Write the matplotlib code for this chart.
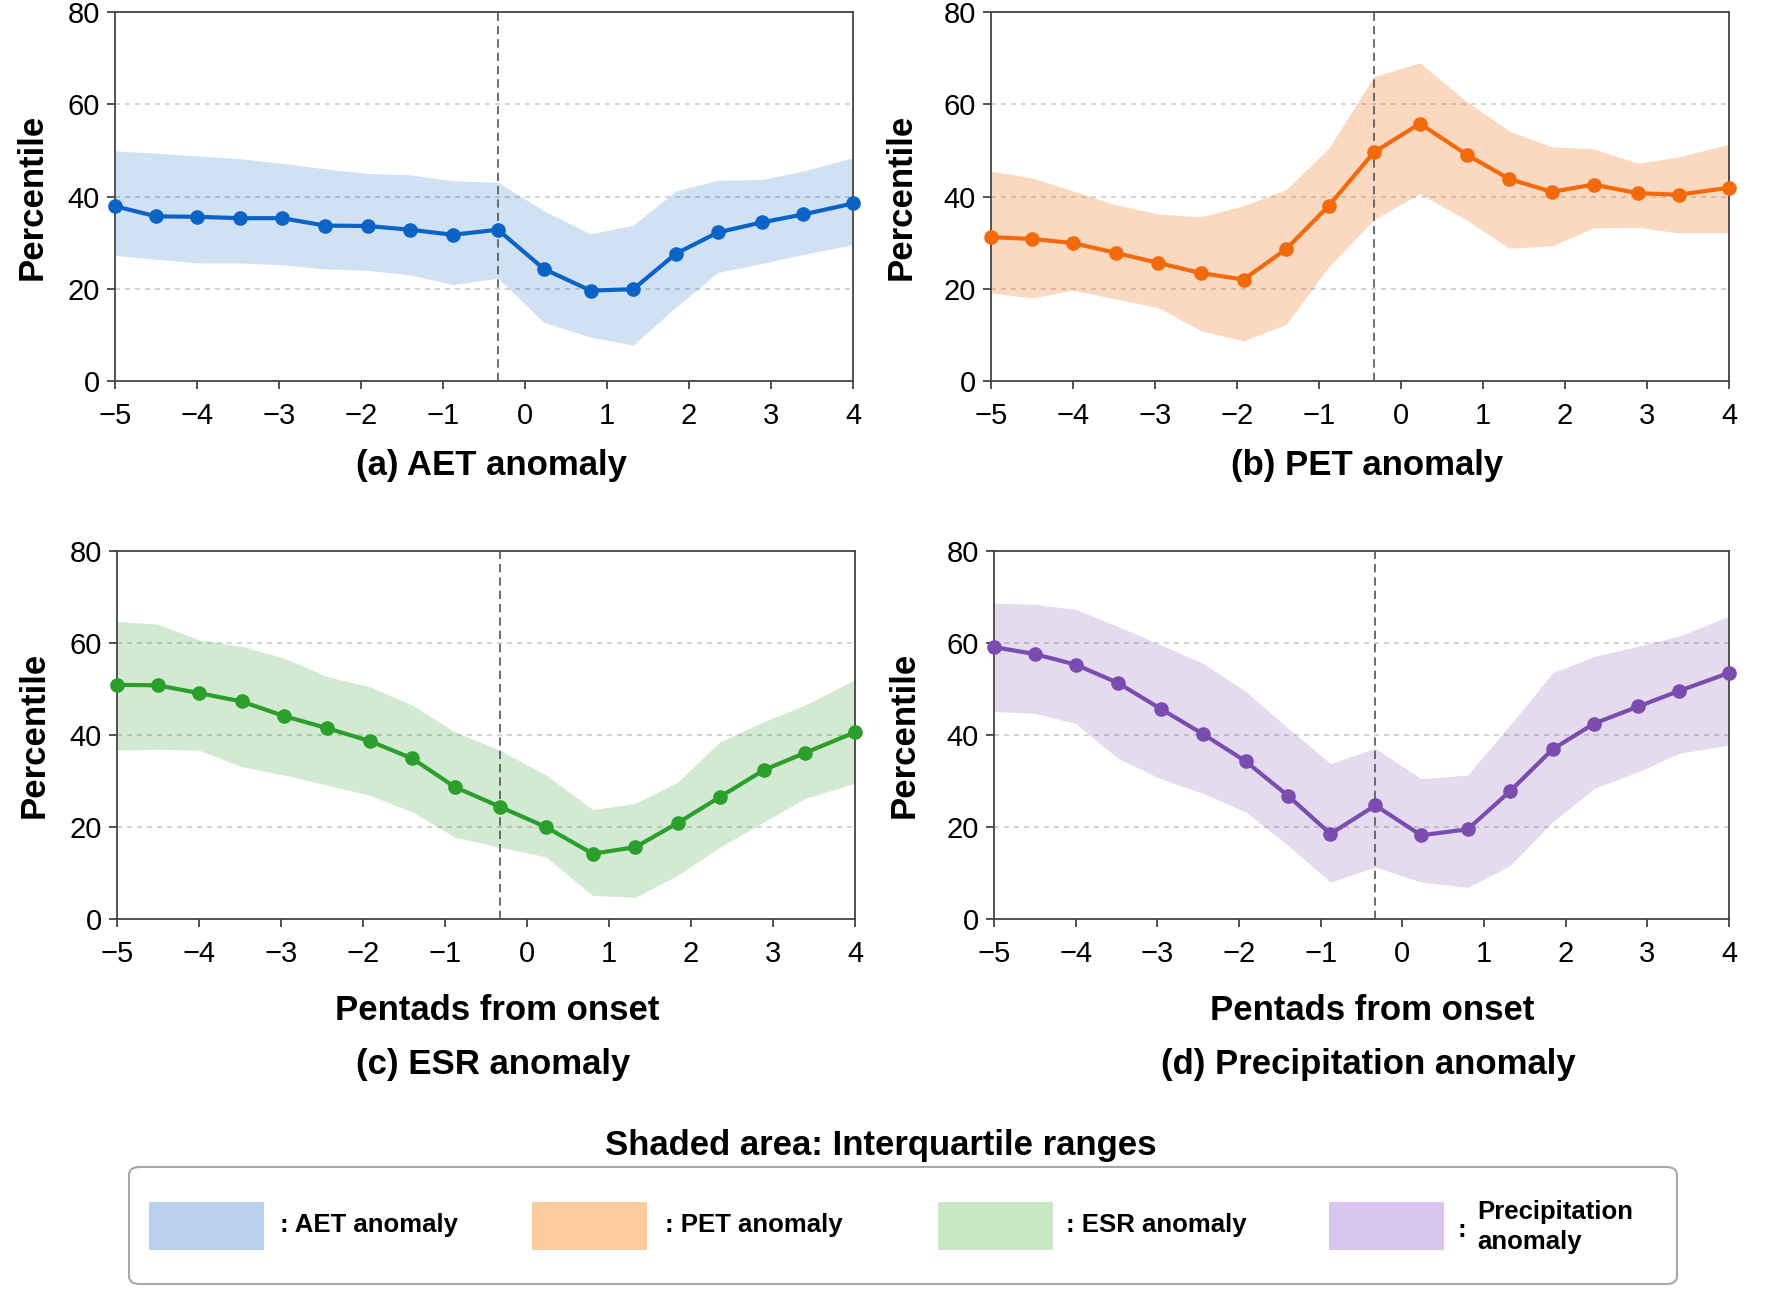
import numpy as np
import matplotlib.pyplot as plt
from matplotlib.patches import FancyBboxPatch, Rectangle

plt.rcParams['font.family'] = ['Liberation Sans', 'DejaVu Sans']
plt.rcParams['axes.unicode_minus'] = True

# pentads relative to onset (18 samples, onset marked by the dashed line)
pentads = [-5.0, -4.5, -4.0, -3.48, -2.96, -2.44, -1.92, -1.4, -0.88,
           -0.33, 0.23, 0.8, 1.32, 1.84, 2.35, 2.89, 3.39, 4.0]
onset = pentads[9]

aet_med = [37.9, 35.7, 35.6, 35.3, 35.3, 33.7, 33.6, 32.8, 31.7,
           32.8, 24.3, 19.6, 19.9, 27.6, 32.2, 34.4, 36.1, 38.5]
aet_q75 = [49.9, 49.4, 48.8, 48.2, 47.2, 46.0, 45.0, 44.7, 43.4,
           43.1, 36.9, 31.9, 33.8, 41.2, 43.5, 43.7, 45.5, 48.4]
aet_q25 = [27.2, 26.4, 25.6, 25.6, 25.2, 24.3, 24.0, 23.0, 20.9,
           22.3, 12.7, 9.5, 7.8, 16.0, 23.5, 25.5, 27.4, 29.6]

pet_med = [31.2, 30.8, 29.9, 27.8, 25.6, 23.4, 22.0, 28.6, 38.0,
           49.6, 55.8, 49.1, 43.8, 41.0, 42.6, 40.7, 40.4, 41.9]
pet_q75 = [45.5, 44.0, 41.2, 38.2, 36.2, 35.6, 38.0, 41.5, 50.5,
           66.0, 69.0, 60.6, 54.2, 50.8, 50.3, 47.2, 48.6, 51.3]
pet_q25 = [19.1, 18.0, 19.7, 17.8, 15.9, 10.9, 8.7, 12.3, 24.8,
           35.0, 40.6, 34.9, 28.8, 29.3, 33.2, 33.3, 32.1, 32.1]

esr_med = [50.9, 50.8, 49.1, 47.3, 44.1, 41.5, 38.7, 34.9, 28.7,
           24.4, 20.0, 14.2, 15.6, 20.9, 26.5, 32.4, 36.1, 40.6]
esr_q75 = [64.7, 64.1, 60.7, 59.3, 56.7, 52.7, 50.5, 46.5, 40.7,
           36.7, 31.3, 23.8, 25.1, 29.8, 38.5, 42.9, 46.5, 52.0]
esr_q25 = [36.7, 36.9, 36.7, 33.1, 31.3, 29.1, 26.9, 23.3, 17.8,
           15.6, 13.5, 5.1, 4.7, 9.5, 15.6, 21.1, 26.2, 29.5]

prcp_med = [59.1, 57.6, 55.3, 51.3, 45.7, 40.2, 34.3, 26.8, 18.5,
            24.7, 18.2, 19.5, 27.8, 36.9, 42.5, 46.2, 49.6, 53.5]
prcp_q75 = [68.7, 68.4, 67.3, 63.6, 59.6, 55.6, 49.5, 41.5, 33.8,
            37.1, 30.5, 31.3, 42.2, 53.5, 57.1, 59.3, 61.5, 65.8]
prcp_q25 = [45.1, 44.7, 42.5, 34.9, 30.5, 27.3, 23.3, 16.0, 8.0,
            11.3, 8.0, 6.9, 11.6, 21.1, 28.4, 32.0, 36.0, 37.8]

titles = ['(a) AET anomaly', '(b) PET anomaly', '(c) ESR anomaly', '(d) Precipitation anomaly']
legend_labels = [': AET anomaly', ': PET anomaly', ': ESR anomaly', 'Precipitation\nanomaly']
line_colors = ['#0b63c6', '#f26a0c', '#2b9e2b', '#7a4cb0']
band_alpha = [0.19, 0.26, 0.21, 0.2]
patch_colors = ['#b9d1ee', '#fcca9c', '#c9e7c5', '#d8c6ee']
xticks = [-5, -4, -3, -2, -1, 0, 1, 2, 3, 4]
yticks = [0, 20, 40, 60, 80]

series = [(aet_med, aet_q25, aet_q75), (pet_med, pet_q25, pet_q75),
          (esr_med, esr_q25, esr_q75), (prcp_med, prcp_q25, prcp_q75)]

W, H = 1785, 1298
fig = plt.figure(figsize=(W / 100, H / 100), dpi=100)

# axes boxes in pixels (left, top, right, bottom)
boxes = [(115, 12, 853, 381), (991, 12, 1729, 381),
         (117, 551, 855, 919), (994, 551, 1729, 919)]
ylab_x = [-0.09, -0.1, -0.09, -0.1]

for i, (box, (med, q25, q75)) in enumerate(zip(boxes, series)):
    l, t, r, b = box
    ax = fig.add_axes([l / W, 1 - b / H, (r - l) / W, (b - t) / H])
    col = line_colors[i]
    ax.fill_between(pentads, q25, q75, color=col, alpha=band_alpha[i], lw=0, zorder=2)
    ax.plot(pentads, med, color=col, lw=3.0, marker='o', ms=9.5, zorder=4, clip_on=False)
    ax.axvline(onset, color='#555555', ls=(0, (5, 3)), lw=1.2, zorder=3)
    ax.set_xlim(-5, 4)
    ax.set_ylim(0, 80)
    ax.set_xticks(xticks)
    ax.set_yticks(yticks)
    for g in [20, 40, 60]:
        ax.axhline(g, color='#cccccc', ls=(0, (3, 3)), lw=1.2, zorder=1)
    ax.tick_params(labelsize=21, length=6, width=1.2, color='#333333')
    ax.tick_params(axis='x', pad=9)
    ax.tick_params(axis='y', pad=5)
    for sp in ax.spines.values():
        sp.set_color('#444444')
        sp.set_linewidth(1.3)
    ax.set_ylabel('Percentile', fontsize=25, fontweight='bold')
    ax.yaxis.set_label_coords(ylab_x[i], 0.5)
    if i < 2:
        ax.text(0.51, -0.23, titles[i], transform=ax.transAxes, ha='center',
                va='center', fontsize=25, fontweight='bold')
    else:
        ax.text(0.515, -0.25, 'Pentads from onset', transform=ax.transAxes,
                ha='center', va='center', fontsize=25, fontweight='bold')
        ax.text(0.51, -0.395, titles[i], transform=ax.transAxes, ha='center',
                va='center', fontsize=25, fontweight='bold')

# legend block
fig.text(881 / W, 1 - 1146 / H, 'Shaded area: Interquartile ranges', ha='center',
         va='center', fontsize=25, fontweight='bold')
frame = FancyBboxPatch((129 / W, 1 - 1284 / H), (1677 - 129) / W, (1284 - 1167) / H,
                       boxstyle='round,pad=0,rounding_size=0.006', transform=fig.transFigure,
                       facecolor='white', edgecolor='#a8a8a8', lw=1.5)
fig.patches.append(frame)
patch_x = [149, 532, 938, 1329]
text_x = [280, 665, 1066, 1477]
for k in range(4):
    rect = Rectangle((patch_x[k] / W, 1 - 1250 / H), 115 / W, 48 / H,
                     transform=fig.transFigure, facecolor=patch_colors[k], edgecolor='none')
    fig.patches.append(rect)
    if k < 3:
        fig.text(text_x[k] / W, 1 - 1225 / H, legend_labels[k], ha='left', va='center',
                 fontsize=18.5, fontweight='bold')
    else:
        fig.text(1457 / W, 1 - 1230 / H, ':', ha='left', va='center',
                 fontsize=18.5, fontweight='bold')
        fig.text(text_x[k] / W, 1 - 1227 / H, legend_labels[k], ha='left', va='center',
                 fontsize=18.5, fontweight='bold', linespacing=1.3)

fig.savefig('out.png', dpi=100, facecolor='white')
